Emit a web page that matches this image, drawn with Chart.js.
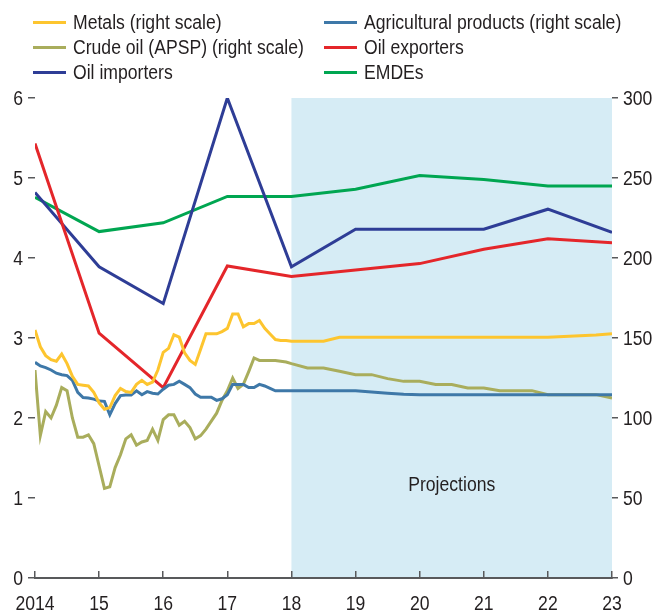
<!DOCTYPE html>
<html>
<head>
<meta charset="utf-8">
<script src="https://cdn.jsdelivr.net/npm/chart.js@4.4.1/dist/chart.umd.min.js"></script>
<style>
  html, body { margin: 0; padding: 0; background: #fff; }
  #wrap { position: relative; width: 655px; height: 612px; }
  #legend { position: absolute; left: 0; top: 0; width: 655px; height: 90px;
            font-family: 'Liberation Sans', Arial, sans-serif;
            font-size: 20px; color: #231f20; }
  .item { position: absolute; height: 24px; line-height: 24px; white-space: nowrap; }
  .item span.swatch { position: absolute; left: 0; top: 11px; width: 33px; height: 3px; }
  .item span.label { position: absolute; left: 40px; top: 0; transform: scaleX(0.88); transform-origin: 0 50%; }
</style>
</head>
<body>
<div id="wrap">
  <canvas id="chart" width="655" height="612"></canvas>
  <div id="legend"></div>
</div>
<script>
// x axis: years 2014-2023, monthly history then quarterly projections
const years = [2014, 2015, 2016, 2017, 2018, 2019, 2020, 2021, 2022, 2023]
const histMonths = Array.from({length: 48}, (_, i) => 2014 + i / 12)
const projQuarters = Array.from({length: 21}, (_, i) => 2018 + i / 4)

// left scale, annual growth
const oilImporters = [4.82, 3.89, 3.43, 6.0, 3.89, 4.36, 4.36, 4.36, 4.61, 4.32]
const oilExporters = [5.43, 3.06, 2.38, 3.9, 3.77, 3.85, 3.93, 4.11, 4.24, 4.19]
const emdes = [4.76, 4.33, 4.44, 4.77, 4.77, 4.86, 5.03, 4.98, 4.9, 4.9]

// right scale, price indexes (monthly history)
const metalsHist = [155, 144.5, 139, 136.5, 135.5, 140, 134, 126, 121, 120.5, 120, 116,
    109.5, 105.5, 106.5, 114, 118.5, 116.5, 116, 121, 123.5, 121, 122.5, 130,
    141, 143.5, 152, 150.5, 140.7, 136, 133.5, 143, 152.6, 152.6, 152.6, 154,
    156, 165, 165, 157, 159, 159, 161, 156, 152.5, 149, 148.5, 148.5]
const agriHist = [134.8, 132.5, 131.5, 130, 128, 127, 126.5, 123.5, 116, 112.8, 112.5, 111.8,
    110.6, 110.4, 102, 109, 114, 114.4, 114.4, 117, 114.5, 116.5, 115.5, 115,
    118, 120.5, 121, 123, 121, 119, 115, 113, 113, 113, 111, 112,
    114.5, 121, 121, 121, 119, 119, 121, 120, 118.5, 117, 117, 117]
const crudeHist = [130, 89, 104, 100, 108, 119, 117, 100, 88, 88, 89.5, 84,
    70, 56, 57, 69, 77, 87, 89.5, 83, 85, 86, 93, 86,
    99, 102, 102, 95.5, 98, 94, 87, 89, 93, 98, 103, 111,
    117, 125, 118.5, 121, 129, 137.5, 136, 136, 136, 136, 135.5, 135]

// right scale, quarterly projections 2018-2023
const metalsProj = [148, 148, 148, 150.5, 150.5, 150.5, 150.5, 150.5, 150.5, 150.5, 150.5,
    150.5, 150.5, 150.5, 150.5, 150.5, 150.5, 150.9, 151.4, 151.8, 152.6]
const agriProj = [117.1, 117.1, 117.1, 117.1, 117.1, 116.3, 115.5, 114.9, 114.6, 114.6, 114.6,
    114.6, 114.6, 114.6, 114.6, 114.6, 114.6, 114.6, 114.6, 114.6, 114.6]
const crudeProj = [134, 131.3, 131.3, 129.2, 127.1, 127.1, 124.6, 122.9, 122.9, 120.9, 120.9,
    118.8, 118.8, 117.1, 117.1, 117.1, 114.6, 114.6, 114.6, 114.6, 112.5]

const FONT = "20px 'Liberation Sans', Arial, sans-serif"
const SQUEEZE = 0.88
const TEXT = "#231f20"
const AXIS = "#58595b"

function pts (xs, ys) {
    return ys.map((y, i) => ({x: xs[i], y: y}))
}

const series = [
    {label: "Metals (right scale)", color: "#fdc52f", axis: "y2", data: pts(histMonths, metalsHist).concat(pts(projQuarters, metalsProj))},
    {label: "Agricultural products (right scale)", color: "#3e78a8", axis: "y2", data: pts(histMonths, agriHist).concat(pts(projQuarters, agriProj))},
    {label: "Crude oil (APSP) (right scale)", color: "#a9ad5c", axis: "y2", data: pts(histMonths, crudeHist).concat(pts(projQuarters, crudeProj))},
    {label: "Oil exporters", color: "#e4262a", axis: "y", data: pts(years, oilExporters)},
    {label: "Oil importers", color: "#2e3d96", axis: "y", data: pts(years, oilImporters)},
    {label: "EMDEs", color: "#00a651", axis: "y", data: pts(years, emdes)}
]

// legend, two columns
const legendPos = [[33, 10], [324, 10], [33, 35], [324, 35], [33, 60], [324, 60]]
const legend = document.getElementById("legend")
series.forEach((s, i) => {
    const div = document.createElement("div")
    div.className = "item"
    div.style.left = legendPos[i][0] + "px"
    div.style.top = legendPos[i][1] + "px"
    div.innerHTML = '<span class="swatch" style="background:' + s.color + '"></span><span class="label">' + s.label + '</span>'
    legend.appendChild(div)
})

// condensed text, drawn squeezed horizontally
function squeezedText (ctx, text, x, y, align) {
    ctx.save()
    ctx.translate(x, y)
    ctx.scale(SQUEEZE, 1)
    ctx.textAlign = align
    ctx.textBaseline = "alphabetic"
    ctx.fillText(text, 0, 0)
    ctx.restore()
}

const shade = {
    id: "shade",
    beforeDraw (chart) {
        const {ctx, chartArea, scales} = chart
        const x0 = scales.x.getPixelForValue(2018)
        const x1 = scales.x.getPixelForValue(2023)
        ctx.save()
        ctx.fillStyle = "#d6ecf5"
        ctx.fillRect(x0, chartArea.top, x1 - x0, chartArea.bottom - chartArea.top)
        ctx.restore()
    },
    afterDraw (chart) {
        const {ctx, chartArea, scales} = chart
        ctx.save()
        ctx.fillStyle = TEXT
        ctx.font = FONT
        scales.x.ticks.forEach((t) => {
            const label = t.value === 2014 ? "2014" : String(t.value).slice(2)
            squeezedText(ctx, label, scales.x.getPixelForValue(t.value), 610, "center")
        })
        scales.y.ticks.forEach((t) => {
            squeezedText(ctx, String(t.value), chartArea.left - 12, scales.y.getPixelForValue(t.value) + 7, "right")
        })
        scales.y2.ticks.forEach((t) => {
            squeezedText(ctx, String(t.value), chartArea.right + 11, scales.y2.getPixelForValue(t.value) + 7, "left")
        })
        squeezedText(ctx, "Projections", scales.x.getPixelForValue(2020.5), scales.y.getPixelForValue(1.18) + 7, "center")
        ctx.restore()
    }
}

new Chart(document.getElementById("chart"), {
    type: "line",
    data: {
        datasets: series.map((s) => ({
            label: s.label,
            data: s.data,
            yAxisID: s.axis,
            borderColor: s.color,
            backgroundColor: s.color,
            borderWidth: 3,
            pointRadius: 0,
            tension: 0,
            fill: false
        }))
    },
    options: {
        responsive: false,
        animation: false,
        layout: {padding: {top: 98, left: 0, right: 0, bottom: 0}},
        plugins: {legend: {display: false}, tooltip: {enabled: false}},
        scales: {
            x: {
                type: "linear",
                min: 2014,
                max: 2023,
                afterFit: (s) => { s.height = 34 },
                grid: {drawOnChartArea: false, drawTicks: true, tickLength: -7, color: AXIS, lineWidth: 1.5},
                border: {display: true, color: AXIS, width: 2},
                ticks: {stepSize: 1, autoSkip: false, maxRotation: 0, display: false}
            },
            y: {
                position: "left",
                min: 0,
                max: 6,
                afterFit: (s) => { s.width = 35 },
                grid: {drawOnChartArea: false, drawTicks: true, tickLength: 7, color: AXIS, lineWidth: 1.5},
                border: {display: false},
                ticks: {stepSize: 1, display: false}
            },
            y2: {
                position: "right",
                min: 0,
                max: 300,
                afterFit: (s) => { s.width = 43 },
                grid: {drawOnChartArea: false, drawTicks: true, tickLength: 6, color: AXIS, lineWidth: 1.5},
                border: {display: false},
                ticks: {stepSize: 50, display: false}
            }
        }
    },
    plugins: [shade]
})
</script>
</body>
</html>
